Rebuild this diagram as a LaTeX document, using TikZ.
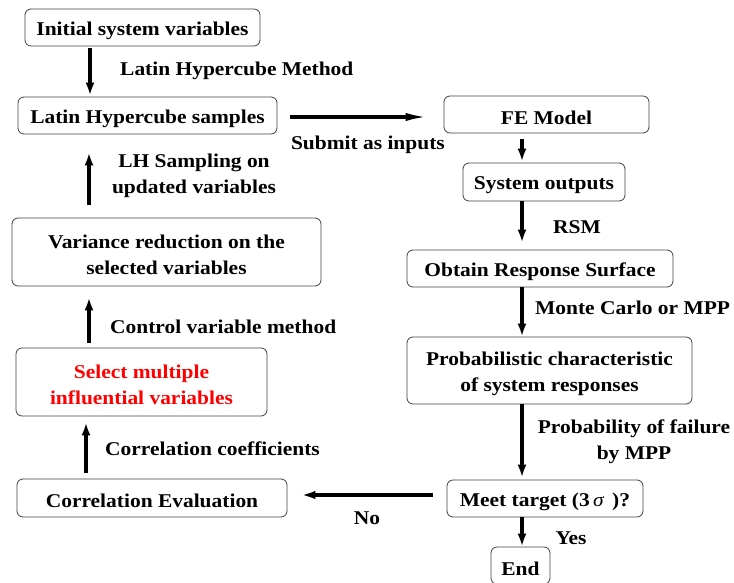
\documentclass[tikz,border=0pt]{standalone}
\usepackage{fontspec}
\setmainfont{Liberation Serif}[FakeStretch=1.1]
\usetikzlibrary{arrows.meta}
\newcommand\firststrut{\rule{0pt}{19.5pt}}
\begin{document}
\begin{tikzpicture}[x=1pt,y=-1pt,
  txt/.style={font=\fontsize{19.5}{26}\selectfont\bfseries, align=center, inner sep=0pt},
  box/.style={txt, draw=black!75, line width=0.8pt, rounded corners=6pt},
  arr/.style={line width=4pt, -{Latex[length=13pt,width=9pt]}},
  harr/.style={line width=3.6pt, -{Latex[length=#1,width=8pt]}}]
\useasboundingbox (0,0) rectangle (734,583);
% boxes
\node[box, minimum width=235pt, minimum height=37pt] (init) at (142.5,27.5) {\firststrut Initial system variables};
\node[box, minimum width=259pt, minimum height=37pt] (lhs) at (147.5,115.5) {\firststrut Latin Hypercube samples};
\node[box, minimum width=309pt, minimum height=68pt] (var) at (166.5,252) {\firststrut Variance reduction on the\\selected variables};
\node[box, minimum width=251pt, minimum height=68pt, text=red] (sel) at (141.5,382) {\firststrut Select multiple\\influential variables};
\node[box, minimum width=270pt, minimum height=38pt] (corr) at (152,498) {\firststrut Correlation Evaluation};
\node[box, minimum width=205pt, minimum height=37pt] (fe) at (546.5,114.5) {\firststrut FE Model};
\node[box, minimum width=162pt, minimum height=38pt] (sys) at (544,182) {\firststrut System outputs};
\node[box, minimum width=266pt, minimum height=37pt] (ors) at (540,268.5) {\firststrut Obtain Response Surface};
\node[box, minimum width=285pt, minimum height=67pt] (prob) at (549.5,370.5) {\firststrut Probabilistic characteristic\\of system responses};
\node[box, minimum width=196pt, minimum height=37pt] (meet) at (545,498.5) {\firststrut Meet target (3\,{\mdseries\itshape σ}\ \,)?};
\node[box, minimum width=59pt, minimum height=37pt] (end) at (520.5,565.5) {\firststrut End};
% labels
\node[txt, anchor=west] (l1) at (120,71) {Latin Hypercube Method};
\node[txt, anchor=east] (l2) at (445,145) {Submit as inputs};
\node[txt] (l3) at (194,176) {LH Sampling on\\updated variables};
\node[txt, anchor=west] (l4) at (110,327) {Control variable method};
\node[txt, anchor=west] (l5) at (105,449) {Correlation coefficients};
\node[txt] (l6) at (367,518) {No};
\node[txt] (l7) at (577,227) {RSM};
\node[txt, anchor=west] (l8) at (535,308) {Monte Carlo or MPP};
\node[txt] (l9) at (634,442) {Probability of failure\\by MPP};
\node[txt] (l10) at (571,538) {Yes};
% arrow columns
\coordinate (c90) at (90,0);
\coordinate (c89) at (89,0);
\coordinate (c86) at (86,0);
\coordinate (c522) at (522,0);
\coordinate (r117) at (0,117);
\coordinate (r495) at (0,495);
% arrows
\draw[arr, shorten <=2pt, shorten >=1pt] (init.south -| c90) -- (lhs.north -| c90);
\draw[arr, shorten <=13pt, shorten >=18pt] (var.north -| c89) -- (lhs.south -| c89);
\draw[arr, shorten <=5pt, shorten >=11pt] (sel.north -| c89) -- (var.south -| c89);
\draw[arr, shorten <=6pt, shorten >=6pt] (corr.north -| c86) -- (sel.south -| c86);
\draw[harr=26pt, shorten <=13pt, shorten >=12pt] (lhs.east |- r117) -- (fe.west |- r117);
\draw[arr, shorten <=6pt, shorten >=1pt] (fe.south -| c522) -- (sys.north -| c522);
\draw[arr, shorten >=7pt] (sys.south -| c522) -- (ors.north -| c522);
\draw[arr] (ors.south -| c522) -- (prob.north -| c522);
\draw[arr, shorten >=2pt] (prob.south -| c522) -- (meet.north -| c522);
\draw[arr] (meet.south -| c522) -- (end.north -| c522);
\draw[harr=18pt, shorten <=14pt, shorten >=10pt] (meet.west |- r495) -- (corr.east |- r495);
\end{tikzpicture}
\end{document}
